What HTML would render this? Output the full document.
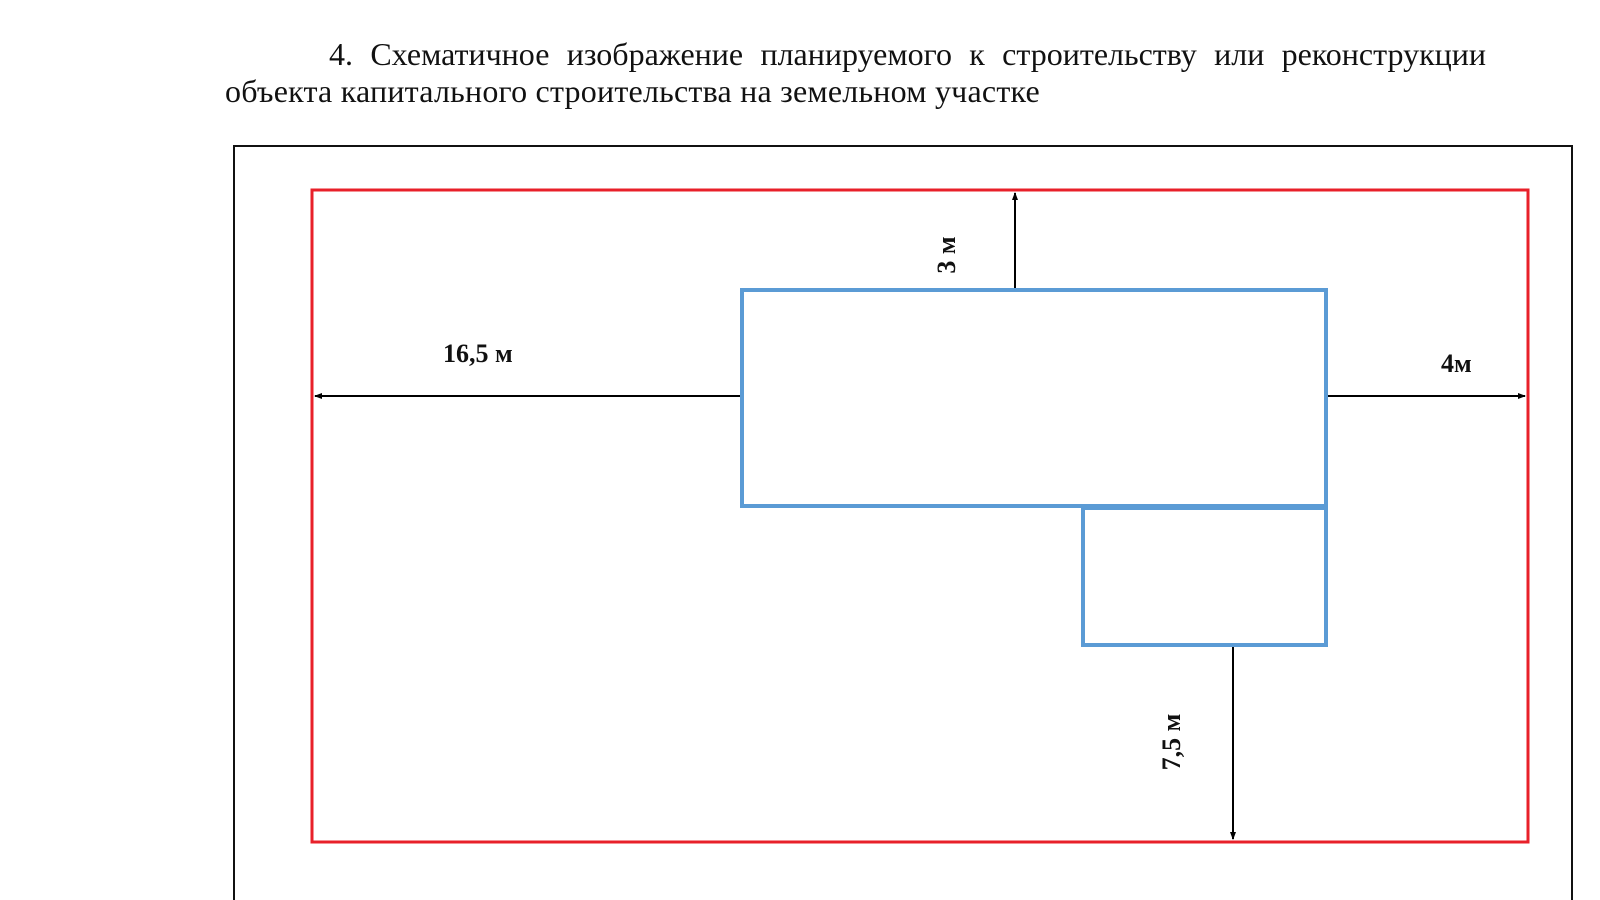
<!DOCTYPE html>
<html><head><meta charset="utf-8"><style>
html,body{margin:0;padding:0;background:#fff;width:1600px;height:900px;overflow:hidden}
.t{position:absolute;font-family:"Liberation Serif",serif;font-size:32px;line-height:37px;color:#111;white-space:nowrap}
.l1{left:329px;top:36px;width:1157px;text-align:justify;text-align-last:justify}
.l2{left:225px;top:73px;letter-spacing:0.22px}
</style></head><body>
<div class="t l1">4. Схематичное изображение планируемого к строительству или реконструкции</div>
<div class="t l2">объекта капитального строительства на земельном участке</div>
<svg width="1600" height="900" style="position:absolute;left:0;top:0">
<defs><marker id="a" markerWidth="8" markerHeight="8" refX="7" refY="4" orient="auto" markerUnits="userSpaceOnUse"><path d="M0,1 L8,4 L0,7 z" fill="#000"/></marker></defs>
<path d="M234,905 V146 H1572 V905" fill="none" stroke="#111" stroke-width="2"/>
<rect x="312" y="190" width="1216" height="652" fill="none" stroke="#e8202a" stroke-width="3"/>
<rect x="742" y="290" width="584" height="216" fill="none" stroke="#5b9bd5" stroke-width="4"/>
<rect x="1083" y="508" width="243" height="137" fill="none" stroke="#5b9bd5" stroke-width="4"/>
<g stroke="#000" stroke-width="2" fill="none">
<line x1="1015" y1="288" x2="1015" y2="193" marker-end="url(#a)"/>
<line x1="740" y1="396" x2="315" y2="396" marker-end="url(#a)"/>
<line x1="1328" y1="396" x2="1525" y2="396" marker-end="url(#a)"/>
<line x1="1233" y1="647" x2="1233" y2="839" marker-end="url(#a)"/>
</g>
<g font-family="Liberation Serif, serif" font-weight="bold" font-size="26" fill="#111">
<text x="443" y="362">16,5 м</text>
<text x="1441" y="372">4м</text>
<text transform="translate(955,255) rotate(-90)" text-anchor="middle">3 м</text>
<text transform="translate(1180,742) rotate(-90)" text-anchor="middle">7,5 м</text>
</g>
</svg>
</body></html>
